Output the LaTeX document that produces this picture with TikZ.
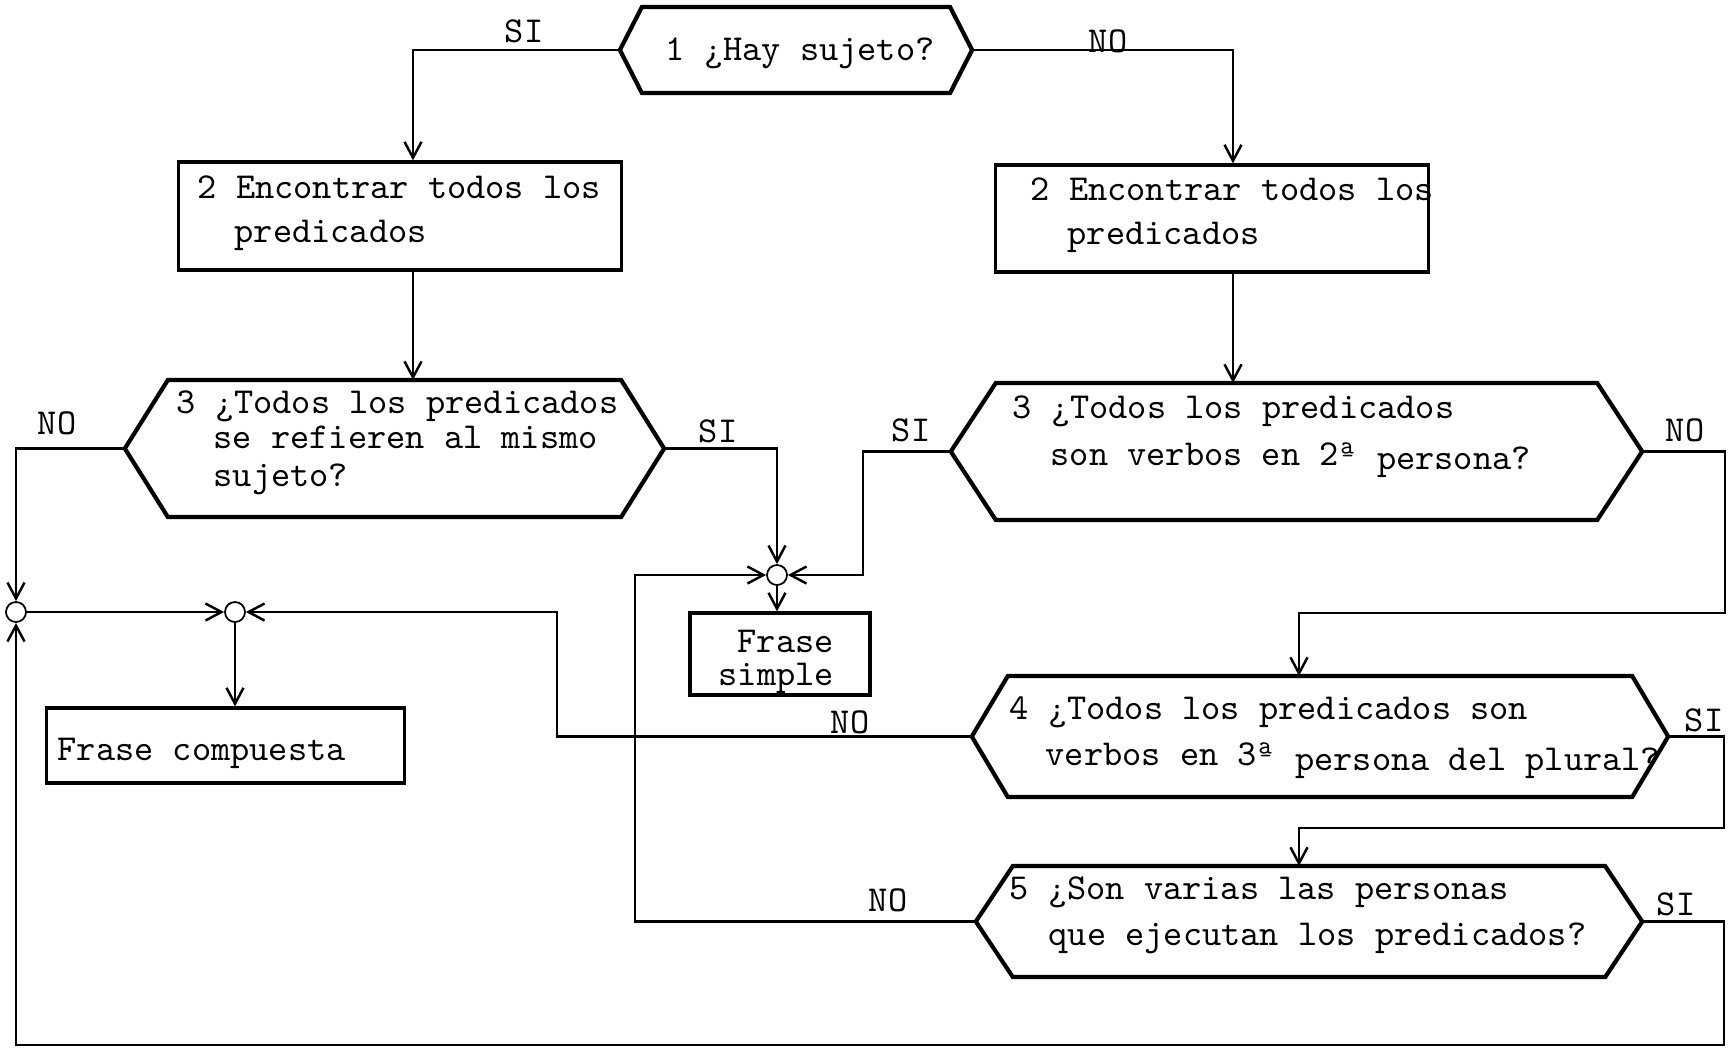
\documentclass[tikz,border=0pt]{standalone}
\usetikzlibrary{arrows.meta}
\begin{document}
\begin{tikzpicture}[x=0.01cm,y=-0.01cm,
  every node/.style={font=\ttfamily\fontsize{10.4pt}{13pt}\selectfont},
  box/.style={draw, line width=0.9pt, inner sep=0pt},
  hexa/.style={inner sep=0pt, outer sep=0pt},
  hexline/.style={line width=1.2pt, line join=miter},
  txt/.style={anchor=base west, inner sep=0pt},
  lab/.style={inner sep=0pt},
  junction/.style={circle, draw, line width=0.5pt, minimum size=0.2cm, inner sep=0pt},
  flow/.style={line width=0.7pt},
  arr/.style={flow, -{Straight Barb[length=1.6mm,width=1.7mm]}}
]
\fill[white] (0,0) rectangle (1729,1050);
\useasboundingbox (0,0) rectangle (1729,1050);

% decision nodes (outline drawn below as hexagons)
\node[hexa, minimum width=3.52cm, minimum height=0.86cm] (hex1)  at (796,50) {};
\node[hexa, minimum width=5.39cm, minimum height=1.37cm] (hex3L) at (394.5,448.5) {};
\node[hexa, minimum width=6.91cm, minimum height=1.37cm] (hex3R) at (1296.5,451.5) {};
\node[hexa, minimum width=6.96cm, minimum height=1.21cm] (hex4)  at (1320,736.5) {};
\node[hexa, minimum width=6.66cm, minimum height=1.11cm] (hex5)  at (1309,921.5) {};

\foreach \n/\i in {hex1/0.22, hex3L/0.43, hex3R/0.45, hex4/0.36, hex5/0.37}
  \draw[hexline] (\n.west) -- ([xshift=\i cm]\n.north west) -- ([xshift=-\i cm]\n.north east)
     -- (\n.east) -- ([xshift=-\i cm]\n.south east) -- ([xshift=\i cm]\n.south west) -- cycle;

% process boxes
\node[box, minimum width=4.42cm, minimum height=1.08cm] (box2L) at (400,216) {};
\node[box, minimum width=4.32cm, minimum height=1.07cm] (box2R) at (1212,218.5) {};
\node[box, minimum width=1.80cm, minimum height=0.82cm] (simple) at (780,654) {};
\node[box, minimum width=3.57cm, minimum height=0.75cm] (comp) at (225.5,745.5) {};

% junctions
\node[junction] (c1) at (777,575) {};
\node[junction] (c2) at (16,612) {};
\node[junction] (c3) at (235,612) {};

% texts
\node[txt] (t1)   at (665,60)  {1 ¿Hay sujeto?};
\node[txt] (t2a)  at (197,198) {2 Encontrar todos los};
\node[txt] (t2b)  at (234,242) {predicados};
\node[txt] (t2c)  at (1030,200) {2 Encontrar todos los};
\node[txt] (t2d)  at (1067,244) {predicados};
\node[txt] (t3a)  at (176,413) {3 ¿Todos los predicados};
\node[txt] (t3b)  at (213,448) {se refieren al mismo};
\node[txt] (t3c)  at (213,486) {sujeto?};
\node[txt] (t3d)  at (1012,418) {3 ¿Todos los predicados};
\node[txt] (t3e)  at (1050,465) {son verbos en 2ª \raisebox{-0.04cm}{persona?}};
\node[txt] (t4a)  at (1009,719) {4 ¿Todos los predicados son};
\node[txt] (t4b)  at (1045,765) {verbos en 3ª \raisebox{-0.05cm}{persona del plural?}};
\node[txt] (t5a)  at (1009,899) {5 ¿Son varias las personas};
\node[txt] (t5b)  at (1048,945) {que ejecutan los predicados?};
\node[txt] (ts1)  at (737,652) {Frase};
\node[txt] (ts2)  at (718,685) {simple};
\node[txt] (tc)   at (57,760)  {Frase compuesta};

% channel coordinates
\coordinate (xL) at (413,0);
\coordinate (xR) at (1233,0);
\coordinate (xJ) at (863,0);
\coordinate (xH) at (1299,0);
\coordinate (xA) at (557,0);
\coordinate (xB) at (635,0);
\coordinate (pR) at (1725,613);
\coordinate (pS) at (1724,828);
\coordinate (pB) at (1724,1045);

% connectors
\draw[arr] (hex1.west) -| (box2L.north -| xL);
\draw[arr] (hex1.east) -| (box2R.north -| xR);
\draw[arr] (box2L.south -| xL) -- (hex3L.north -| xL);
\draw[arr] (box2R.south -| xR) -- (hex3R.north -| xR);
\draw[arr] (hex3L.east) -| (c1.north);
\draw[arr] (hex3L.west) -| (c2.north);
\draw[arr] (hex3R.west) -| (c1 -| xJ) -- (c1.east);
\draw[arr] (c1.south) -- (simple.north -| c1);
\draw[arr] (hex3R.east) -| (pR) -| (hex4.north -| xH);
\draw[arr] (hex4.west) -| (c3 -| xA) -- (c3.east);
\draw[arr] (c2.east) -- (c3.west);
\draw[arr] (c3.south) -- (comp.north -| c3);
\draw[arr] (hex4.east) -| (pS) -| (hex5.north -| xH);
\draw[arr] (hex5.west) -| (c1 -| xB) -- (c1.west);
\draw[arr] (hex5.east) -| (pB) -| (c2.south);

% branch labels
\node[lab] (l1) at (524,31)  {SI};
\node[lab] (l2) at (1108,41) {NO};
\node[lab] (l3) at (57,423)  {NO};
\node[lab] (l4) at (718,431) {SI};
\node[lab] (l5) at (911,430) {SI};
\node[lab] (l6) at (1685,430) {NO};
\node[lab] (l7) at (850,722) {NO};
\node[lab] (l8) at (1704,720) {SI};
\node[lab] (l9) at (888,900) {NO};
\node[lab] (l10) at (1676,904) {SI};
\end{tikzpicture}
\end{document}
